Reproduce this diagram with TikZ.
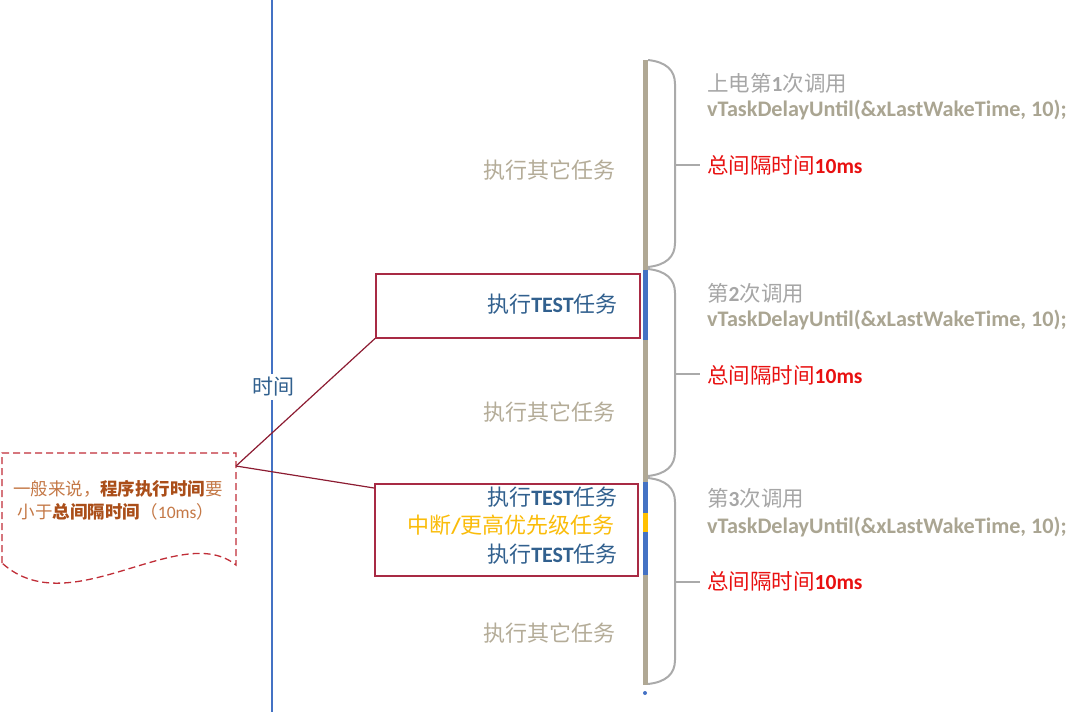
\documentclass[tikz,border=0pt]{standalone}
\usepackage{fontspec}
\setmainfont{Carlito}
\newfontfamily\cj{Noto Sans CJK SC}
\newcommand\lb[1]{{\rmfamily\bfseries #1}}
\newcommand\lr[1]{{\rmfamily #1}}
\definecolor{tline}{RGB}{176,168,148}
\definecolor{graytxt}{RGB}{166,166,166}
\definecolor{tantxt}{RGB}{170,165,146}
\definecolor{othertxt}{RGB}{180,172,152}
\definecolor{bluetxt}{RGB}{49,96,142}
\definecolor{blueline}{RGB}{68,114,196}
\definecolor{yellowbar}{RGB}{255,192,0}
\definecolor{ytxt}{RGB}{250,188,10}
\definecolor{redtxt}{RGB}{232,16,16}
\definecolor{boxred}{RGB}{168,42,68}
\definecolor{linkred}{RGB}{140,28,50}
\definecolor{dashred}{RGB}{192,45,55}
\definecolor{brownA}{RGB}{196,120,70}
\definecolor{brownB}{RGB}{170,78,25}
\definecolor{bracegray}{RGB}{170,170,170}
\tikzset{
  boxstyle/.style={draw=boxred, line width=1.5pt, inner sep=0pt, anchor=north west},
  othertask/.style={text=othertxt, font=\cj\fontsize{22}{26}\selectfont},
  bluetask/.style={text=bluetxt, font=\cj\fontsize{22}{26}\selectfont, anchor=east, inner sep=0pt},
  calltxt/.style={text=graytxt, font=\cj\fontsize{21.5}{25}\selectfont, anchor=west, inner sep=0pt},
  codetxt/.style={text=tantxt, font=\rmfamily\bfseries\fontsize{22.2}{26}\selectfont, anchor=west, inner sep=0pt},
  redlabel/.style={text=redtxt, font=\cj\fontsize{21.5}{25}\selectfont, anchor=west, inner sep=0pt},
  bracestyle/.style={draw=bracegray, line width=2pt},
  linkstyle/.style={draw=linkred, line width=1.2pt},
}
\begin{document}
\begin{tikzpicture}[x=1pt,y=-1pt]
\useasboundingbox (0,0) rectangle (1080,712);
% time axis
\draw[draw=blueline, line width=1.5pt] (272,0) -- (272,712);
\node[fill=white, text=bluetxt, font=\cj\fontsize{21}{25}\selectfont, inner sep=3pt] (tlabel) at (273,387) {时间};
% timeline bar
\draw[draw=tline, line width=5pt] (645,60) -- (645,685);
\draw[draw=blueline, line width=5pt] (645,270) -- (645,340);
\draw[draw=blueline, line width=5pt] (645,482) -- (645,575);
\draw[draw=yellowbar, line width=5pt] (645,513) -- (645,532);
\fill[fill=blueline] (645,693) circle (2);
% braces
\foreach \a/\b in {60/267, 269/476, 478/684}{
  \pgfmathsetmacro{\m}{(\a+\b)/2+1}
  \draw[bracestyle] (648,\a) .. controls (666,\a+2) and (675,\a+10) .. (675,\a+24)
     -- (675,\b-24) .. controls (675,\b-10) and (666,\b-2) .. (648,\b);
  \draw[bracestyle] (675,\m) -- (700,\m);
}
% right texts
\node[calltxt] (c1) at (707,83) {上电第\lb{1}次调用};
\node[codetxt] (v1) at (707,110) {vTaskDelayUntil(\&xLastWakeTime, 10);};
\node[redlabel] (r1) at (707,165) {总间隔时间\lb{10ms}};
\node[calltxt] (c2) at (707,293) {第\lb{2}次调用};
\node[codetxt] (v2) at (707,320) {vTaskDelayUntil(\&xLastWakeTime, 10);};
\node[redlabel] (r2) at (707,375) {总间隔时间\lb{10ms}};
\node[calltxt] (c3) at (707,498) {第\lb{3}次调用};
\node[codetxt] (v3) at (707,527) {vTaskDelayUntil(\&xLastWakeTime, 10);};
\node[redlabel] (r3) at (707,581) {总间隔时间\lb{10ms}};
% other tasks
\node[othertask] (o1) at (549,170) {执行其它任务};
\node[othertask] (o2) at (549,412) {执行其它任务};
\node[othertask] (o3) at (549,633) {执行其它任务};
% boxes
\node[boxstyle, minimum width=264pt, minimum height=64pt] (box1) at (375,273) {};
\node[bluetask] (t1) at (618,304) {执行\lb{TEST}任务};
\node[boxstyle, minimum width=263pt, minimum height=92pt] (box2) at (374,483) {};
\node[bluetask] (t2) at (618,497) {执行\lb{TEST}任务};
\node[bluetask, text=ytxt] (t3) at (615,525) {中断\lb{/}更高优先级任务};
\node[bluetask] (t4) at (618,554) {执行\lb{TEST}任务};
% callout
\draw[draw=dashred, line width=1.3pt, dash pattern=on 7pt off 4pt]
  (2,563) -- (2,453) -- (236,453) -- (236,565)
  .. controls (180,520) and (70,625) .. (2,563);
\coordinate (cpt) at (236,466);
\node[font=\cj\fontsize{17.5}{21}\selectfont, text=brownA, inner sep=0pt] (n1) at (118,489)
  {一般来说，{\bfseries\color{brownB}程序执行时间}要};
\node[font=\cj\fontsize{17.5}{21}\selectfont, text=brownA, inner sep=0pt] (n2) at (116,512)
  {小于{\bfseries\color{brownB}总间隔时间}（\lr{10ms}）};
% connectors
\draw[linkstyle] (cpt) -- (box1.south west);
\draw[linkstyle] (cpt) -- ([yshift=-5pt]box2.north west);
\end{tikzpicture}
\end{document}
